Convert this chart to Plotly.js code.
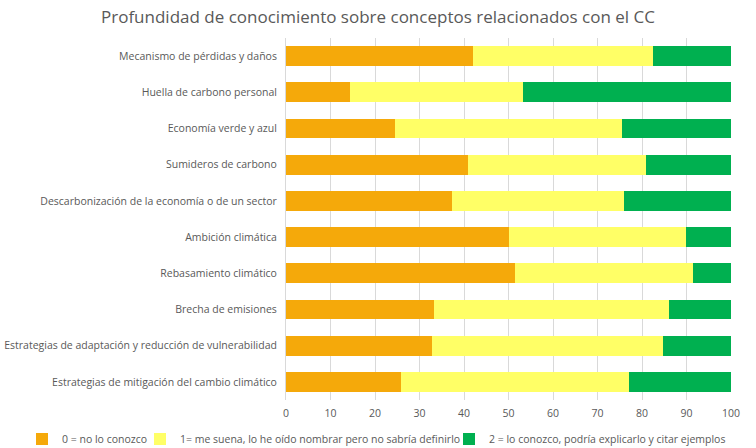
<!DOCTYPE html>
<html>
<head>
<meta charset="utf-8">
<script src="https://cdn.plot.ly/plotly-3.0.1.min.js"></script>
<style>html,body{margin:0;padding:0;background:#fff;}#chart{width:756px;height:448px;}</style>
</head>
<body>
<div id="chart"></div>
<script>
const categories = [
  "Mecanismo de pérdidas y daños",
  "Huella de carbono personal",
  "Economía verde y azul",
  "Sumideros de carbono",
  "Descarbonización de la economía o de un sector",
  "Ambición climática",
  "Rebasamiento climático",
  "Brecha de emisiones",
  "Estrategias de adaptación y reducción de vulnerabilidad",
  "Estrategias de mitigación del cambio climático"
];
const noLoConozco = [42.0, 14.4, 24.6, 40.8, 37.3, 50.0, 51.5, 33.2, 32.9, 25.9];
const meSuena     = [40.5, 38.8, 51.0, 40.1, 38.7, 39.9, 39.9, 52.8, 51.9, 51.2];
const loConozco   = [17.5, 46.8, 24.4, 19.1, 24.0, 10.1, 8.6, 14.0, 15.2, 22.9];
const seriesNames = [
  "0 = no lo conozco",
  "1= me suena, lo he oído nombrar pero no sabría definirlo",
  "2 = lo conozco, podría explicarlo y citar ejemplos"
];
const xTicks = [0,10,20,30,40,50,60,70,80,90,100];

const colors = ["#F5A90A", "#FFFF66", "#00B050"];
const vals = [noLoConozco, meSuena, loConozco];
const legendIds = ["legend", "legend2", "legend3"];
const legendLeftPx = [22, 140, 449];
const font = "Open Sans, Noto Sans, sans-serif";
const W = 756, H = 448;

const data = vals.map((v, i) => ({
  type: "bar",
  orientation: "h",
  name: seriesNames[i],
  legend: legendIds[i],
  y: categories,
  x: v,
  marker: {color: colors[i], line: {width: 0}},
  width: 0.55,
  hoverinfo: "x+y+name"
}));

const layout = {
  width: W, height: H,
  barmode: "stack",
  paper_bgcolor: "#fff", plot_bgcolor: "#fff",
  margin: {l: 286, r: 25, t: 38, b: 48},
  title: {text: "Profundidad de conocimiento sobre conceptos relacionados con el CC",
          font: {family: font, size: 17, color: "#595959"}, x: 0.5, xanchor: "center", y: 0.975, yanchor: "top"},
  xaxis: {
    range: [0, 100], tickvals: xTicks, ticktext: xTicks.map(String),
    showgrid: true, gridcolor: "#D9D9D9", gridwidth: 1, zeroline: false,
    showline: false, ticks: "", ticklabelstandoff: 5,
    tickfont: {family: font, size: 10.5, color: "#595959"},
    fixedrange: true
  },
  yaxis: {
    autorange: "reversed", showgrid: false, showline: true, linecolor: "#D9D9D9",
    ticks: "", ticklabelstandoff: 6,
    tickfont: {family: font, size: 10.5, color: "#595959"}, fixedrange: true
  },
  showlegend: true
};
legendIds.forEach((id, i) => {
  layout[id] = {
    orientation: "h", xref: "container", yref: "container",
    x: legendLeftPx[i] / W, xanchor: "left",
    y: (H - 439) / H, yanchor: "middle",
    font: {family: font, size: 10.5, color: "#595959"},
    itemwidth: 30, bgcolor: "rgba(0,0,0,0)"
  };
});

Plotly.newPlot("chart", data, layout, {displayModeBar: false});
</script>
</body>
</html>
